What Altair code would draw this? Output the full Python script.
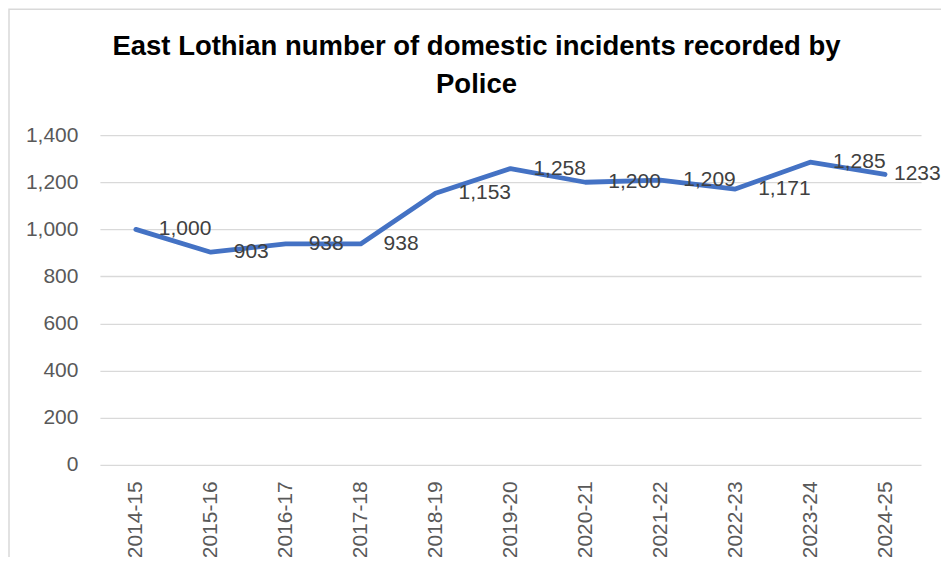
import altair as alt
import pandas as pd

years = ["2014-15", "2015-16", "2016-17", "2017-18", "2018-19", "2019-20",
         "2020-21", "2021-22", "2022-23", "2023-24", "2024-25"]
incidents = [1000, 903, 938, 938, 1153, 1258, 1200, 1209, 1171, 1285, 1233]
label_text = ["1,000", "903", "938", "938", "1,153", "1,258", "1,200", "1,209",
              "1,171", "1,285", "1233"]

df = pd.DataFrame({"year": years, "value": incidents, "label": label_text})

FONT = "Liberation Sans"

x = alt.X("year:O", sort=years, title=None,
          scale=alt.Scale(type="point", padding=0.48),
          axis=alt.Axis(labelAngle=-90, labelFontSize=21, labelColor="#595959",
                        labelFont=FONT, ticks=False, domain=False, grid=False,
                        labelPadding=16))
y = alt.Y("value:Q", title=None,
          scale=alt.Scale(domain=[0, 1400], nice=False),
          axis=alt.Axis(values=[0, 200, 400, 600, 800, 1000, 1200, 1400],
                        format=",d", labelFontSize=21, labelColor="#595959",
                        labelFont=FONT, ticks=False, domain=False,
                        gridColor="#d9d9d9", gridWidth=1.3, labelPadding=22))

base = alt.Chart(df)

frame = base.mark_rect(fill=None, stroke="#d9d9d9", strokeWidth=1.5).encode(
    x=alt.value(-91), x2=alt.value(900), y=alt.value(-126), y2=alt.value(500)
).transform_filter(alt.datum.year == years[0])

line = base.mark_line(color="#4472C4", strokeWidth=4.8, strokeCap="round",
                      strokeJoin="round").encode(x=x, y=y)

labels = base.mark_text(align="left", baseline="middle", dx=23, fontSize=21,
                        font=FONT, color="#404040").encode(
    x=alt.X("year:O", sort=years), y="value:Q", text="label:N"
).transform_filter(alt.datum.year != years[-1])

last_label = base.mark_text(align="left", baseline="middle", dx=9, fontSize=21,
                            font=FONT, color="#404040").encode(
    x=alt.X("year:O", sort=years), y="value:Q", text="label:N"
).transform_filter(alt.datum.year == years[-1])

chart = alt.layer(frame, line, labels, last_label).properties(
    width=822, height=330,
    title=alt.TitleParams(
        text=["East Lothian number of domestic incidents recorded by", "Police"],
        fontSize=27.5, fontWeight="bold", font=FONT, color="#000000",
        anchor="middle", frame="group", lineHeight=38, offset=0,
        dx=-34, dy=90),
    autosize=alt.AutoSizeParams(type="none"),
    padding={"left": 92, "top": 127, "right": 20, "bottom": 92},
).configure_view(stroke=None)

chart.save("out.html", embed_options={"renderer": "svg", "actions": False})
